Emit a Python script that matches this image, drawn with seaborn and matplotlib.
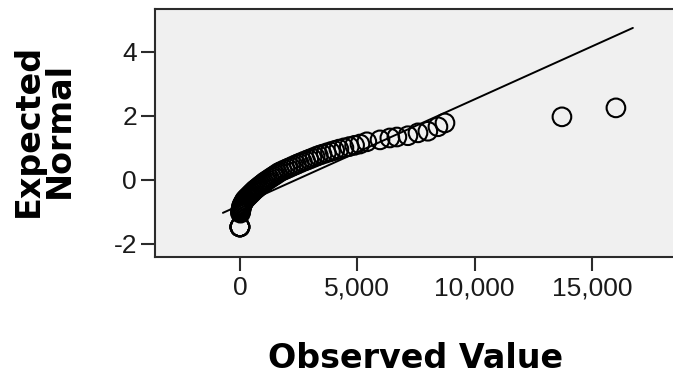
import matplotlib
matplotlib.use("Agg")
import matplotlib.pyplot as plt
import seaborn as sns

# Observed values (ascending) and the expected normal score of each
observed = [0, 0, 0, 0, 0, 0,
            22, 30, 38, 48, 59, 69, 80, 111, 139, 169, 198, 240,
            296, 351, 406, 461, 516, 571, 626, 691, 759, 827, 896, 964,
            1032, 1107, 1190, 1272, 1355, 1437, 1520, 1602, 1684, 1796,
            1918, 2040, 2162, 2284, 2406, 2528, 2660, 2797, 2933, 3069,
            3206, 3342, 3500, 3680, 3859, 4039, 4218, 4433, 4660, 4888,
            5115, 5410, 5970, 6390, 6690, 7160, 7590, 8010, 8440, 8740,
            13726, 16027]
expected = [-1.47, -1.47, -1.47, -1.47, -1.47, -1.47,
            -1.04, -1.00, -0.96, -0.92, -0.88, -0.84, -0.80, -0.76, -0.72, -0.68, -0.64, -0.60,
            -0.56, -0.52, -0.48, -0.44, -0.40, -0.36, -0.32, -0.28, -0.24, -0.20, -0.16, -0.12,
            -0.08, -0.04, 0.00, 0.04, 0.08, 0.12, 0.16, 0.20, 0.24, 0.28,
            0.32, 0.36, 0.40, 0.44, 0.48, 0.52, 0.56, 0.60, 0.64, 0.68,
            0.72, 0.76, 0.80, 0.84, 0.88, 0.92, 0.96, 1.00, 1.04, 1.08,
            1.12, 1.19, 1.25, 1.31, 1.34, 1.38, 1.47, 1.52, 1.66, 1.78,
            1.97, 2.25]

# Reference normal line: mean and standard deviation, drawn over this range
ref_mean = 2390
ref_sd = 3024
ref_x = [-725, 16750]
ref_y = [(v - ref_mean) / ref_sd for v in ref_x]

x_ticks = [0, 5000, 10000, 15000]
x_tick_labels = ["0", "5,000", "10,000", "15,000"]
y_ticks = [-2, 0, 2, 4]
y_tick_labels = ["-2", "0", "2", "4"]

sns.set_style("white")

W, H = 673, 377
fig = plt.figure(figsize=(W / 100, H / 100), dpi=100, facecolor="white")
ax = fig.add_axes([155 / W, (H - 257) / H, (W - 155) / W, 248 / H])
ax.set_facecolor("#f0f0f0")

sns.lineplot(x=ref_x, y=ref_y, ax=ax, color="black", linewidth=1.4, zorder=2)
sns.scatterplot(x=observed, y=expected, ax=ax, s=180, marker="o",
                facecolor="none", edgecolor="black", linewidth=1.5, zorder=3)

ax.set_xlim(-3620, 18460)
ax.set_ylim(-2.41, 5.34)

ax.set_xticks(x_ticks)
ax.set_xticklabels(x_tick_labels)
ax.set_yticks(y_ticks)
ax.set_yticklabels(y_tick_labels)

for side in ["left", "bottom", "top"]:
    ax.spines[side].set_color("#2b2b2b")
    ax.spines[side].set_linewidth(1.5)
ax.spines["right"].set_visible(False)

ax.tick_params(axis="both", direction="out", length=10, width=1.5,
               color="#2b2b2b", left=True, bottom=True)
ax.tick_params(axis="x", pad=4)
ax.tick_params(axis="y", pad=3)
for lab in ax.get_xticklabels() + ax.get_yticklabels():
    lab.set_fontfamily("Liberation Sans")
    lab.set_fontsize(19)
    lab.set_color("#1a1a1a")

ax.set_xlabel("Observed Value", fontsize=24, fontweight="bold",
              fontfamily="DejaVu Sans", color="black")
ax.xaxis.label.set_va("baseline")
ax.xaxis.set_label_coords((416 - 155) / (W - 155), -(368 - 257) / 248)

fig.text(44 / W, 1 - 130 / H, "Expected\nNormal", rotation=90,
         ha="center", va="center", multialignment="center",
         fontsize=24, fontweight="bold", fontfamily="DejaVu Sans",
         linespacing=0.95, color="black")

fig.savefig("out.png", dpi=100, facecolor="white")
